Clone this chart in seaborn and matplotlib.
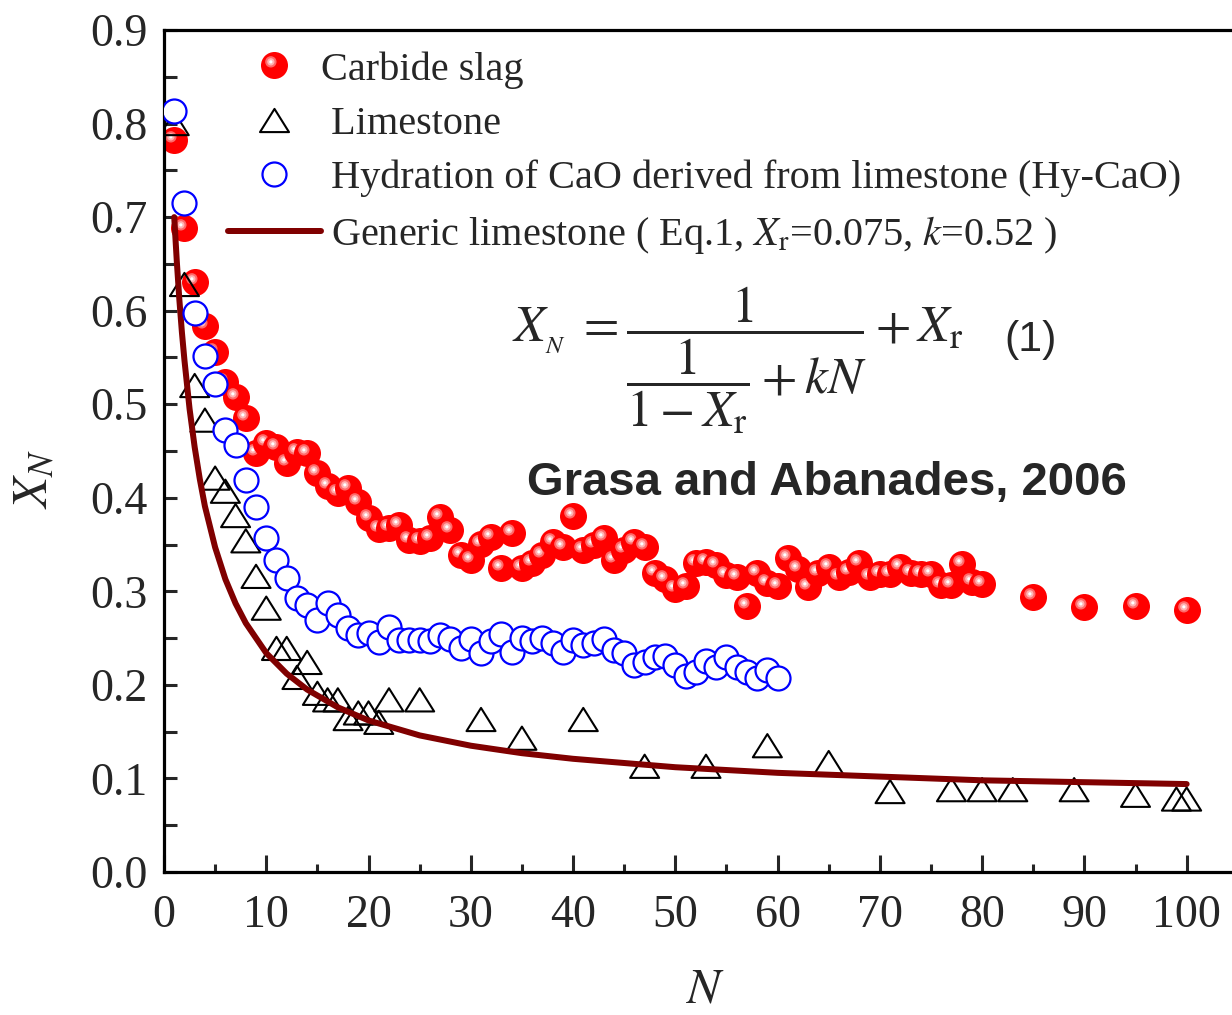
import numpy as np
import pandas as pd
import matplotlib
matplotlib.use("Agg")
import matplotlib.pyplot as plt
from matplotlib.lines import Line2D
from matplotlib.path import Path
from matplotlib.ticker import MultipleLocator
from matplotlib.legend_handler import HandlerTuple
import seaborn as sns

# ---------------- data ----------------
slag_N = list(range(1, 81)) + [85, 90, 95, 100]
slag_X = [0.782, 0.688, 0.631, 0.584, 0.556, 0.524, 0.508, 0.485, 0.448, 0.459,
          0.454, 0.437, 0.449, 0.448, 0.426, 0.413, 0.405, 0.410, 0.395, 0.378,
          0.367, 0.368, 0.371, 0.355, 0.354, 0.357, 0.379, 0.366, 0.339, 0.333,
          0.351, 0.358, 0.325, 0.362, 0.325, 0.330, 0.339, 0.353, 0.347, 0.380,
          0.344, 0.349, 0.357, 0.333, 0.344, 0.353, 0.347, 0.320, 0.313, 0.303,
          0.306, 0.330, 0.331, 0.328, 0.317, 0.315, 0.284, 0.320, 0.309, 0.306,
          0.336, 0.324, 0.305, 0.320, 0.326, 0.315, 0.321, 0.330, 0.315, 0.319,
          0.319, 0.326, 0.320, 0.319, 0.319, 0.307, 0.307, 0.329, 0.310, 0.308,
          0.294, 0.283, 0.284, 0.280]

lime_N = [1, 2, 3, 4, 5, 6, 7, 8, 9, 10, 11, 12, 13, 14, 15, 16, 17, 18, 19, 20,
          21, 22, 25, 31, 35, 41, 47, 53, 59, 65, 71, 77, 80, 83, 89, 95, 99, 100]
lime_X = [0.800, 0.628, 0.520, 0.483, 0.421, 0.407, 0.381, 0.354, 0.316, 0.282,
          0.239, 0.239, 0.208, 0.224, 0.191, 0.184, 0.184, 0.164, 0.170, 0.170,
          0.160, 0.184, 0.184, 0.163, 0.143, 0.163, 0.113, 0.113, 0.135, 0.117,
          0.086, 0.088, 0.088, 0.088, 0.088, 0.082, 0.078, 0.078]

hy_N = list(range(1, 61))
hy_X = [0.813, 0.715, 0.597, 0.552, 0.522, 0.472, 0.456, 0.419, 0.390, 0.357,
        0.333, 0.314, 0.293, 0.285, 0.269, 0.287, 0.275, 0.261, 0.253, 0.255,
        0.246, 0.262, 0.248, 0.248, 0.248, 0.247, 0.253, 0.249, 0.239, 0.249,
        0.234, 0.247, 0.254, 0.235, 0.250, 0.247, 0.250, 0.245, 0.235, 0.248,
        0.243, 0.245, 0.249, 0.237, 0.234, 0.221, 0.224, 0.230, 0.231, 0.221,
        0.210, 0.214, 0.226, 0.219, 0.230, 0.219, 0.214, 0.207, 0.216, 0.207]

model_N = [1, 1.25, 1.5, 1.75, 2, 2.5, 3, 3.5, 4, 5, 6, 7, 8, 10, 12, 14, 17,
           20, 25, 30, 35, 40, 50, 60, 70, 80, 90, 100]
model_X = [0.700, 0.653, 0.612, 0.577, 0.547, 0.495, 0.454, 0.420, 0.391, 0.347,
           0.313, 0.287, 0.266, 0.234, 0.212, 0.195, 0.176, 0.162, 0.146, 0.135,
           0.127, 0.121, 0.112, 0.106, 0.102, 0.098, 0.096, 0.094]

x_ticks = [0, 10, 20, 30, 40, 50, 60, 70, 80, 90, 100]
y_ticks = [0.0, 0.1, 0.2, 0.3, 0.4, 0.5, 0.6, 0.7, 0.8, 0.9]

labels = ["Carbide slag",
          " Limestone",
          " Hydration of CaO derived from limestone (Hy-CaO)",
          " Generic limestone ( Eq.1, $X_{\\mathrm{r}}$=0.075, $k$=0.52 )"]

# ---------------- style ----------------
sns.set_style("ticks")
plt.rcParams["font.family"] = ["Liberation Serif", "DejaVu Serif"]
plt.rcParams["mathtext.fontset"] = "stix"

PX = 72.0 / 100.0   # points per pixel at dpi 100
RED = "#ff0000"
BLUE = "#0000ff"
LINE = "#800000"

fig = plt.figure(figsize=(12.32, 10.15), dpi=100)
ax = fig.add_axes([164 / 1232, 143 / 1015, 1084 / 1232, 842 / 1015])

# highlight marker paths (offset circles inside a unit box)
def hl_marker(r):
    c = Path.circle((-0.27, 0.27), r)
    verts = np.concatenate([c.vertices, [[1.0, 1.0], [-1.0, -1.0]]])
    codes = np.concatenate([c.codes, [Path.MOVETO, Path.MOVETO]])
    return Path(verts, codes)

hl_layers = [(hl_marker(0.42), "#ff6a6a"), (hl_marker(0.27), "#ffb4b4"),
             (hl_marker(0.12), "#ffffff")]

ball_pt = 27 * PX
ball_s = ball_pt ** 2

# carbide slag balls (drawn one by one so later balls cover earlier highlights)
for i, (n, x) in enumerate(zip(slag_N, slag_X)):
    z = 2 + i * 0.004
    ax.scatter([n], [x], s=ball_s, marker="o", color=RED, linewidths=0, zorder=z)
    for j, (mk, col) in enumerate(hl_layers):
        ax.scatter([n], [x], s=ball_s, marker=mk, color=col, linewidths=0,
                   zorder=z + 0.001 * (j + 1))

# limestone triangles
tri = Path([(0, 0.8), (-1, -0.8), (1, -0.8), (0, 0.8)],
           [Path.MOVETO, Path.LINETO, Path.LINETO, Path.CLOSEPOLY])
tri_pt = 29 * PX
df_lime = pd.DataFrame({"N": lime_N, "X": lime_X})
sns.scatterplot(data=df_lime, x="N", y="X", ax=ax, marker=tri, s=tri_pt ** 2,
                facecolor="none", edgecolor="black", linewidth=1.5, zorder=3,
                legend=False)

# model curve
df_model = pd.DataFrame({"N": model_N, "X": model_X})
sns.lineplot(data=df_model, x="N", y="X", ax=ax, color=LINE, linewidth=6 * PX,
             zorder=3.5, legend=False)

# Hy-CaO circles
circ_pt = 24 * PX
df_hy = pd.DataFrame({"N": hy_N, "X": hy_X})
sns.scatterplot(data=df_hy, x="N", y="X", ax=ax, marker="o", s=circ_pt ** 2,
                color="white", edgecolor=BLUE, linewidth=1.6, zorder=4,
                legend=False)

# ---------------- axes ----------------
ax.set_xlim(0, 106)
ax.set_ylim(0, 0.9)
ax.set_xticks(x_ticks)
ax.set_xticklabels([str(t) for t in x_ticks])
ax.set_yticks(y_ticks)
ax.set_yticklabels([f"{t:.1f}" for t in y_ticks])
ax.xaxis.set_minor_locator(MultipleLocator(5))
ax.yaxis.set_minor_locator(MultipleLocator(0.05))
for s in ["left", "bottom", "top", "right"]:
    ax.spines[s].set_linewidth(2.3)
    ax.spines[s].set_color("black")
ax.tick_params(axis="x", which="major", direction="in", length=17 * PX,
               width=2.2, labelsize=33, pad=16, top=False)
ax.tick_params(axis="x", which="minor", direction="in", length=8 * PX,
               width=2.2, top=False)
ax.tick_params(axis="y", which="both", direction="in", length=13 * PX,
               width=2.2, labelsize=33, pad=12, right=False)

ax.set_xlabel("$N$", fontsize=36)
ax.xaxis.set_label_coords(0.499, -0.113)
ax.set_ylabel("$X_N$", fontsize=36)
ax.yaxis.set_label_coords(-0.098, 0.466)

# ---------------- legend ----------------
h_slag = tuple([Line2D([], [], marker="o", linestyle="none", color=RED,
                       markeredgewidth=0, markersize=ball_pt)] +
               [Line2D([], [], marker=mk, linestyle="none", color=col,
                       markeredgewidth=0, markersize=ball_pt)
                for mk, col in hl_layers])
h_lime = Line2D([], [], marker=tri, linestyle="none", markerfacecolor="none",
                markeredgecolor="black", markeredgewidth=1.5, markersize=tri_pt)
h_hy = Line2D([], [], marker="o", linestyle="none", markerfacecolor="white",
              markeredgecolor=BLUE, markeredgewidth=1.6, markersize=circ_pt)
h_line = Line2D([], [], color=LINE, linewidth=6 * PX)

leg = ax.legend([h_slag, h_lime, h_hy, h_line], labels,
                handler_map={tuple: HandlerTuple(ndivide=1, pad=0)},
                loc="upper left", bbox_to_anchor=(0.059, 0.975),
                frameon=False, fontsize=29, handlelength=2.3,
                handletextpad=0.0, borderpad=0, borderaxespad=0,
                labelspacing=0.42)
leg.set_zorder(10)

# ---------------- annotations ----------------
ax.text(0.529, 0.607,
        r"$X_{_N}\;=\dfrac{1}{\dfrac{1}{1-X_{\mathrm{r}}}+kN}+X_{\mathrm{r}}$",
        transform=ax.transAxes, ha="center", va="center", fontsize=37,
        zorder=10)
ax.text(0.799, 0.632, "(1)", transform=ax.transAxes, ha="center", va="center",
        fontsize=31, family=["Liberation Sans", "DejaVu Sans"], zorder=10)
ax.text(0.612, 0.462, "Grasa and Abanades, 2006", transform=ax.transAxes,
        ha="center", va="center", fontsize=34, fontweight="bold",
        family=["Liberation Sans", "DejaVu Sans"], zorder=10)

fig.savefig("out.png", dpi=100)
